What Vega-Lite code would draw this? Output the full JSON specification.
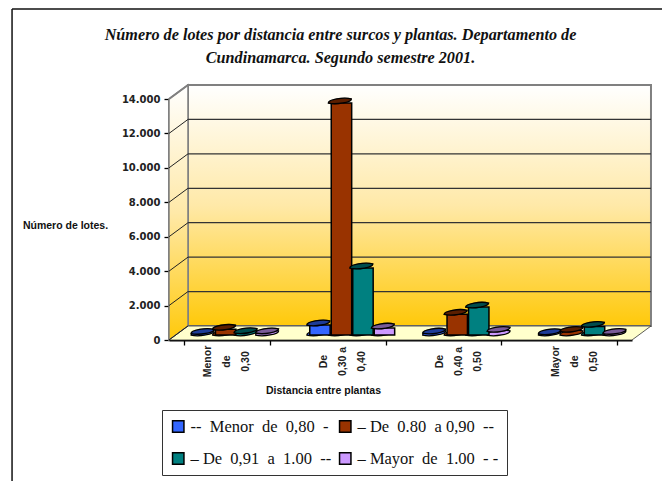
{
"$schema":"https://vega.github.io/schema/vega-lite/v6.json",
"width":463,"height":241,
"autosize":{"type":"none"},
"padding":{"left":169,"top":99,"right":30,"bottom":141},
"background":"white",
"title":{"text":["Número de lotes por distancia entre surcos y plantas. Departamento de","Cundinamarca.  Segundo semestre 2001."],"font":"Liberation Serif","fontStyle":"italic","fontWeight":"bold","fontSize":16.2,"lineHeight":23,"color":"#111","anchor":"middle","frame":"group","dx":-60,"offset":-58},
"config":{"view":{"stroke":null}},
"datasets":{
"lots":[
{"group":"Menor de 0,30","series":"--\u00a0\u00a0Menor\u00a0 de\u00a0 0,80\u00a0\u00a0-","lots":90},
{"group":"Menor de 0,30","series":"–\u00a0De\u00a0 0.80\u00a0 a 0,90\u00a0\u00a0--","lots":330},
{"group":"Menor de 0,30","series":"–\u00a0De\u00a0 0,91\u00a0 a\u00a0 1.00\u00a0\u00a0--","lots":130},
{"group":"Menor de 0,30","series":"–\u00a0Mayor\u00a0 de\u00a0 1.00\u00a0\u00a0-\u00a0-","lots":120},
{"group":"De 0,30 a 0,40","series":"--\u00a0\u00a0Menor\u00a0 de\u00a0 0,80\u00a0\u00a0-","lots":580},
{"group":"De 0,30 a 0,40","series":"–\u00a0De\u00a0 0.80\u00a0 a 0,90\u00a0\u00a0--","lots":13480},
{"group":"De 0,30 a 0,40","series":"–\u00a0De\u00a0 0,91\u00a0 a\u00a0 1.00\u00a0\u00a0--","lots":3890},
{"group":"De 0,30 a 0,40","series":"–\u00a0Mayor\u00a0 de\u00a0 1.00\u00a0\u00a0-\u00a0-","lots":400},
{"group":"De 0,40 a 0,50","series":"--\u00a0\u00a0Menor\u00a0 de\u00a0 0,80\u00a0\u00a0-","lots":110},
{"group":"De 0,40 a 0,50","series":"–\u00a0De\u00a0 0.80\u00a0 a 0,90\u00a0\u00a0--","lots":1200},
{"group":"De 0,40 a 0,50","series":"–\u00a0De\u00a0 0,91\u00a0 a\u00a0 1.00\u00a0\u00a0--","lots":1620},
{"group":"De 0,40 a 0,50","series":"–\u00a0Mayor\u00a0 de\u00a0 1.00\u00a0\u00a0-\u00a0-","lots":210},
{"group":"Mayor de 0,50","series":"--\u00a0\u00a0Menor\u00a0 de\u00a0 0,80\u00a0\u00a0-","lots":70},
{"group":"Mayor de 0,50","series":"–\u00a0De\u00a0 0.80\u00a0 a 0,90\u00a0\u00a0--","lots":210},
{"group":"Mayor de 0,50","series":"–\u00a0De\u00a0 0,91\u00a0 a\u00a0 1.00\u00a0\u00a0--","lots":500},
{"group":"Mayor de 0,50","series":"–\u00a0Mayor\u00a0 de\u00a0 1.00\u00a0\u00a0-\u00a0-","lots":90}
],
"ticks":[{"v":0,"back":813},{"v":2000,"back":2813},{"v":4000,"back":4813},{"v":6000,"back":6813},{"v":8000,"back":8813},{"v":10000,"back":10813},{"v":12000,"back":12813},{"v":14000,"back":14813}],
"floor":[{"x":0,"lo":0,"hi":0},{"x":0.164,"lo":0,"hi":813},{"x":4,"lo":0,"hi":813},{"x":4.164,"lo":813,"hi":813}],
"side":[{"x":0,"lo":0,"hi":14000},{"x":0.164,"lo":813,"hi":14813}]
},
"resolve":{"scale":{"x":"independent"}},
"layer":[
{"mark":{"type":"rule","color":"#111","strokeWidth":1.5},"data":{"values":[{"a":1}]},"encoding":{
 "x":{"datum":-1.356,"type":"quantitative","scale":{"domain":[0,4]},"axis":null},"x2":{"datum":5},
 "y":{"datum":19228,"type":"quantitative","scale":{"domain":[0,14000]}}}},
{"mark":{"type":"rule","color":"#111","strokeWidth":1.5},"data":{"values":[{"a":1}]},"encoding":{
 "x":{"datum":-1.356,"type":"quantitative","scale":{"domain":[0,4]},"axis":null},
 "y":{"datum":19228,"type":"quantitative","scale":{"domain":[0,14000]}},"y2":{"datum":-9000}}},
{"mark":{"type":"rect","stroke":"#808080","strokeWidth":2,"color":{"gradient":"linear","x1":0,"y1":0,"x2":0,"y2":1,"stops":[{"offset":0,"color":"#ffffff"},{"offset":0.5,"color":"#ffe9a8"},{"offset":1,"color":"#ffc90a"}]}},"data":{"values":[{"a":1}]},"encoding":{
 "x":{"datum":0.164,"type":"quantitative","scale":{"domain":[0,4]},"axis":null},"x2":{"datum":4.164},
 "y":{"datum":14813,"type":"quantitative","scale":{"domain":[0,14000]}},"y2":{"datum":813}}},
{"mark":{"type":"area","stroke":"#808080","strokeWidth":1.5,"color":{"gradient":"linear","x1":0,"y1":0,"x2":0,"y2":1,"stops":[{"offset":0,"color":"#ffffff"},{"offset":0.5,"color":"#ffe9a8"},{"offset":1,"color":"#ffc90a"}]}},"data":{"name":"side"},"encoding":{
 "x":{"field":"x","type":"quantitative","scale":{"domain":[0,4]},"axis":null},
 "y":{"field":"lo","type":"quantitative","scale":{"domain":[0,14000]}},"y2":{"field":"hi"}}},
{"mark":{"type":"area","color":"#ffffcc","stroke":"#333","strokeWidth":0.8},"data":{"name":"floor"},"encoding":{
 "x":{"field":"x","type":"quantitative","scale":{"domain":[0,4]},"axis":null},
 "y":{"field":"lo","type":"quantitative","scale":{"domain":[0,14000]}},"y2":{"field":"hi"}}},
{"mark":{"type":"rule","color":"#333","strokeWidth":1.3},"data":{"name":"ticks"},"transform":[{"filter":"datum.v>0 && datum.v<14000"}],"encoding":{
 "x":{"datum":0.164,"type":"quantitative","scale":{"domain":[0,4]},"axis":null},"x2":{"datum":4.164},
 "y":{"field":"back","type":"quantitative","scale":{"domain":[0,14000]}}}},
{"mark":{"type":"rule","color":"#222","strokeWidth":1},"data":{"name":"ticks"},"transform":[{"filter":"datum.v<14000"}],"encoding":{
 "x":{"datum":0,"type":"quantitative","scale":{"domain":[0,4]},"axis":null},"x2":{"datum":0.164},
 "y":{"field":"v","type":"quantitative","scale":{"domain":[0,14000]}},"y2":{"field":"back"}}},
{"mark":{"type":"rule","color":"#808080","strokeWidth":2},"data":{"name":"ticks"},"transform":[{"filter":"datum.v==14000"}],"encoding":{
 "x":{"datum":0,"type":"quantitative","scale":{"domain":[0,4]},"axis":null},"x2":{"datum":0.164},
 "y":{"field":"v","type":"quantitative","scale":{"domain":[0,14000]}},"y2":{"field":"back"}}},
{"data":{"name":"lots"},
 "encoding":{
  "x":{"field":"group","type":"nominal","sort":null,"scale":{"paddingInner":0.257,"paddingOuter":0.128},
   "axis":{"title":"Distancia entre plantas","titleFont":"Liberation Sans","titleFontWeight":"bold","titleFontSize":10.5,"titleColor":"#111","titleX":154,"titleY":50,"titleBaseline":"middle","titleAlign":"center","labelFont":"Liberation Sans","labelFontWeight":"bold","labelFontSize":10.5,"labelColor":"#222","labelAngle":-90,"labelAlign":"center","labelBaseline":"middle","labelPadding":16,"labelLineHeight":19,"labelOffset":-19,"labelExpr":"datum.label==''?'':datum.value=='Menor de 0,30'?['Menor','de','0,30']:datum.value=='De 0,30 a 0,40'?['De','0,30 a','0,40']:datum.value=='De 0,40 a 0,50'?['De','0,40 a','0,50']:['Mayor','de','0,50']","domainColor":"#000","domainWidth":2,"tickColor":"#000","tickWidth":1.3,"tickSize":5,"tickBand":"extent","grid":false,"labelOverlap":false}},
  "xOffset":{"field":"series","type":"nominal","sort":null,"scale":{"paddingInner":0,"paddingOuter":0,"range":[8,94]}},
  "y":{"field":"lots","type":"quantitative","scale":{"domain":[0,14000]},
   "axis":{"title":"Número de lotes.","titleAngle":0,"titleFont":"Liberation Sans","titleFontWeight":"bold","titleFontSize":10.5,"titleColor":"#111","titleX":-104,"titleY":126,"titleAlign":"center","titleBaseline":"middle","values":[0,2000,4000,6000,8000,10000,12000,14000],"tickCount":8,"labelOverlap":false,"labelExpr":"replace(format(datum.value,','),',','.')","labelFont":"DejaVu Sans","labelFontWeight":"bold","labelFontSize":10,"labelColor":"#222","labelPadding":4,"domainColor":"#000","domainWidth":2,"tickColor":"#000","tickWidth":1.3,"tickSize":5,"grid":false}},
  "color":{"field":"series","type":"nominal","sort":null,
   "scale":{"range":["#3366ff","#993300","#008080","#cc99ff"]},
   "legend":{"title":null,"orient":"none","legendX":-7,"legendY":311,"columns":2,"direction":"horizontal","strokeColor":"#333","fillColor":"white","padding":8,"rowPadding":15,"columnPadding":5,"symbolType":"square","symbolSize":130,"symbolOpacity":1,"symbolStrokeColor":"#000","symbolStrokeWidth":1.5,"labelFont":"Liberation Serif","labelFontSize":16.5,"labelColor":"#111","labelLimit":220,"clipHeight":17}}
 },
 "layer":[
  {"transform":[{"calculate":"0","as":"base"}],
   "mark":{"type":"point","filled":true,"opacity":1,"stroke":"#000","strokeWidth":1.3,"size":529,"shape":"M-1,0.18 C-1,-0.12 0.3,-0.36 1,-0.18 C1,0.1 -0.3,0.36 -1,0.18 Z","yOffset":-7},
   "encoding":{"y":{"field":"base","type":"quantitative","scale":{"domain":[0,14000]}}}},
  {"mark":{"type":"bar","stroke":"#000","strokeWidth":1.5,"width":{"band":0.95},"yOffset":-5,"y2Offset":-5},"transform":[{"filter":"datum.lots>250"}]},
  {"mark":{"type":"point","filled":true,"opacity":1,"stroke":"#000","strokeWidth":1.3,"size":529,"shape":"M-1,0.18 C-1,-0.12 0.3,-0.36 1,-0.18 C1,0.1 -0.3,0.36 -1,0.18 Z","yOffset":-7}},
  {"mark":{"type":"point","filled":true,"opacity":0.4,"stroke":"#000","strokeWidth":1.3,"size":529,"shape":"M-1,0.18 C-1,-0.12 0.3,-0.36 1,-0.18 C1,0.1 -0.3,0.36 -1,0.18 Z","yOffset":-7},"encoding":{"color":{"value":"#000"}}}
 ]
}
]
}
